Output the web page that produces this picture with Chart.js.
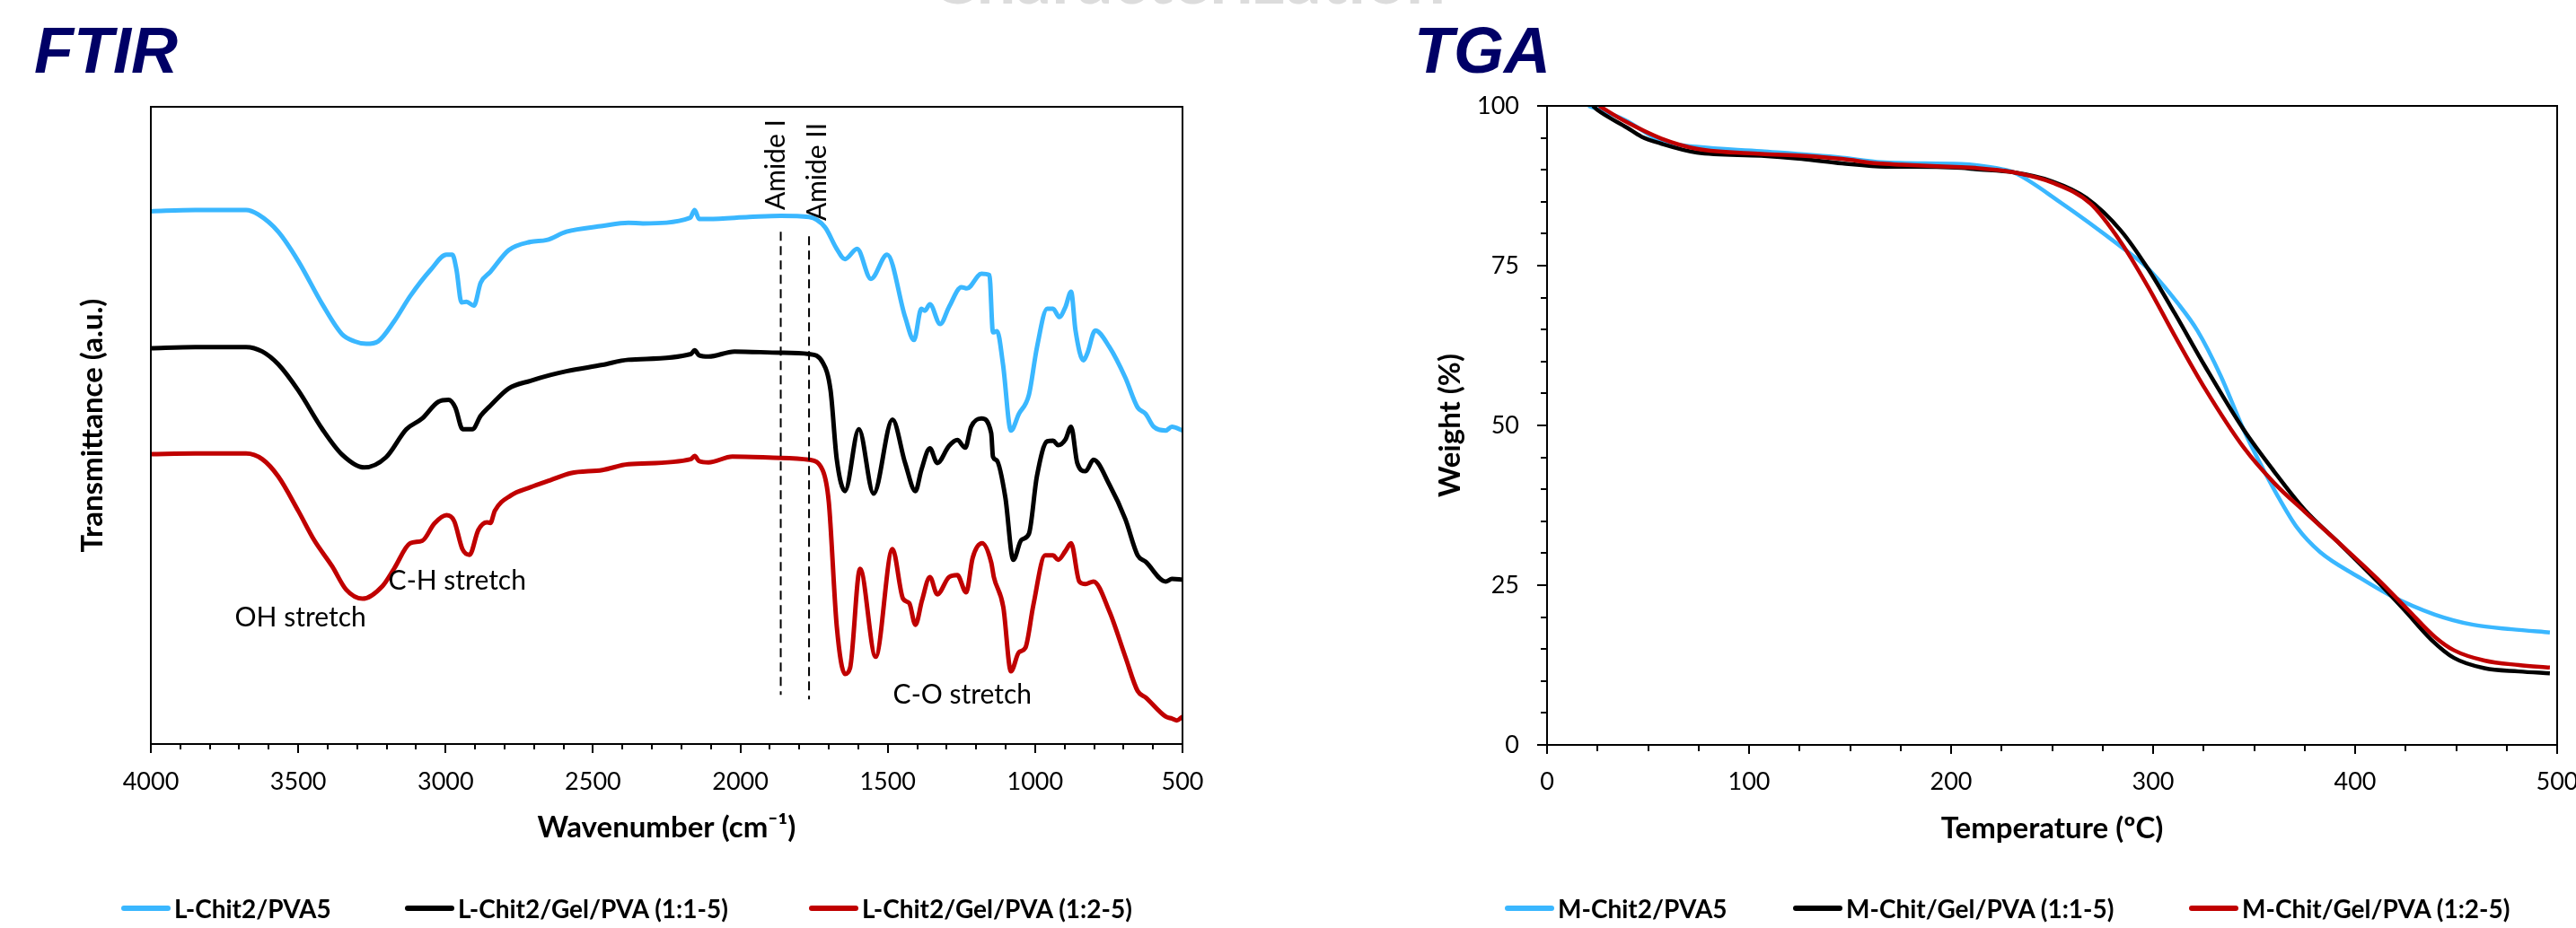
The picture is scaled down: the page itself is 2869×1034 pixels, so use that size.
<!DOCTYPE html>
<html>
<head>
<meta charset="utf-8">
<script src="https://cdn.jsdelivr.net/npm/chart.js@4.4.0/dist/chart.umd.min.js"></script>
<style>
html,body{margin:0;padding:0;background:#fff;}
#page{position:relative;width:2869px;height:1034px;overflow:hidden;background:#fff;font-family:Lato,sans-serif;}
canvas{position:absolute;top:0;}
.ttl{position:absolute;top:20px;font:italic bold 72px "Liberation Sans",Arial,sans-serif;color:#000066;line-height:1;}
.faint{position:absolute;left:1036px;top:-65px;font:bold 78px Lato,sans-serif;color:#dcdcdc;line-height:1;white-space:nowrap;}
.leg{position:absolute;top:998px;height:28px;display:flex;align-items:center;font:bold 28px Lato,sans-serif;line-height:28px;white-space:nowrap;color:#000;}
.leg .sw{display:inline-block;width:55px;height:6px;border-radius:3px;margin-right:4px;}
</style>
</head>
<body>
<div id="page">
  <div class="faint">Characterization</div>
  <div class="ttl" style="left:38px">FTIR</div>
  <div class="ttl" style="left:1575px">TGA</div>
  <canvas id="ftir" width="1434" height="1034" style="left:0"></canvas>
  <canvas id="tga" width="1435" height="1034" style="left:1434px"></canvas>
  <div id="legFtir"></div>
  <div id="legTga"></div>
</div>
<script>
// ---- FTIR: wavenumber (cm-1) and transmittance (a.u., offset spectra) ----
var ftirWn1 = [4000,3850,3677,3636,3568,3500,3418,3351,3310,3269,3229,3175,3120,3051,2997,2977,2963,2946,2929,2904,2881,2848,2786,2712,2657,2590,2468,2380,2331,2170,2155,2140,2108,1971,1863,1767,1713,1673,1645,1604,1557,1502,1441,1411,1386,1374,1357,1322,1292,1250,1231,1182,1155,1143,1129,1109,1082,1055,1021,994,959,939,918,897,878,863,836,823,796,748,694,652,625,598,557,536,500];
var ftirT1  = [83.6,83.8,83.8,83.1,80.4,75.8,69.0,64.3,63.2,62.8,63.2,66.3,70.3,74.4,76.8,76.8,74.4,69.3,69.4,68.8,72.4,74.1,77.5,78.8,79.1,80.4,81.3,81.8,81.7,82.6,83.8,82.4,82.4,82.7,82.9,82.7,81.1,77.7,76.1,77.7,73.0,76.8,67.0,63.4,68.3,68.0,69.0,65.9,68.6,71.7,71.5,73.8,73.6,64.6,64.8,59.6,49.2,51.8,54.8,62.2,68.3,68.3,67.0,68.6,71.0,64.9,60.2,61.3,64.9,62.3,57.5,52.8,51.8,49.8,49.2,49.8,49.2];

var ftirWn2 = [4000,3850,3677,3622,3568,3500,3418,3351,3276,3202,3133,3079,3025,2990,2967,2942,2909,2881,2848,2786,2712,2645,2590,2468,2380,2168,2155,2140,2108,2020,1863,1767,1721,1694,1673,1645,1598,1548,1484,1441,1406,1386,1357,1332,1292,1264,1237,1217,1182,1149,1143,1130,1101,1074,1047,1021,994,959,939,922,897,878,857,829,802,748,694,652,625,557,536,500];
var ftirT2  = [62.1,62.3,62.3,61.6,59.6,55.5,49.4,45.4,43.4,45.0,49.4,51.1,53.7,54.0,52.8,49.4,49.4,51.5,53.1,55.8,57.0,57.9,58.5,59.5,60.3,61.2,61.8,61.0,60.8,61.6,61.4,61.2,59.9,55.5,44.7,39.7,49.4,39.3,50.9,44.1,39.7,43.0,46.4,44.1,46.8,47.7,46.5,49.8,51.1,48.8,45.1,44.5,38.7,28.9,32.0,33.0,42.0,47.5,47.6,46.9,47.8,49.8,44.1,42.8,44.6,40.7,35.3,29.6,28.6,25.5,25.9,25.8];

var ftirWn3 = [4000,3850,3677,3622,3568,3500,3446,3385,3337,3282,3214,3175,3120,3079,3038,2997,2971,2943,2919,2889,2860,2848,2833,2779,2712,2645,2576,2468,2380,2168,2155,2140,2108,2027,1863,1767,1721,1700,1673,1645,1628,1594,1541,1484,1448,1427,1406,1384,1357,1332,1292,1264,1234,1212,1180,1149,1140,1108,1082,1055,1033,1006,966,939,922,897,878,850,829,802,748,694,652,625,557,536,519,500];
var ftirT3  = [45.5,45.6,45.6,44.7,42.0,36.6,32.0,27.9,24.2,22.8,24.8,27.5,31.5,31.9,34.6,35.9,35.0,30.6,29.7,33.6,34.8,34.7,36.6,39.0,40.3,41.4,42.5,43.0,43.9,44.7,45.2,44.4,44.2,45.1,44.9,44.6,43.0,38.0,18.5,11.0,11.9,27.5,13.7,30.6,22.8,22.1,18.7,22.5,26.2,23.5,26.2,26.5,23.8,29.2,31.5,28.5,26.2,21.5,11.4,14.4,15.1,21.8,29.6,29.6,28.9,30.3,31.5,25.5,25.1,25.5,20.8,13.7,8.3,7.3,4.3,4.0,3.7,4.3];

var ftirNames = ['L-Chit2/PVA5', 'L-Chit2/Gel/PVA (1:1-5)', 'L-Chit2/Gel/PVA (1:2-5)'];

// amide marker lines (dashed)
var amideWn = [1863, 1767];
var amideTop = [80.4, 79.7];
var amideBottom = [7.7, 7.0];

// band labels: wavenumber / transmittance of text start
var ftirNotes = [
  {text: 'OH stretch', x: 3715, y: 18.4},
  {text: 'C-H stretch', x: 3194, y: 24.2},
  {text: 'C-O stretch', x: 1482, y: 6.3},
  {text: 'Amide I', x: 1850, y: 83.8, rotate: true},
  {text: 'Amide II', x: 1709, y: 82.1, rotate: true}
];

// ---- TGA: temperature (ºC) and weight (%) ----
var tgaT1 = [20.5,38.6,56.5,74,106,146,165.5,205,213,225,231,253.7,284,297.3,312.5,322,333.4,344.7,352.3,361.8,371.3,382.6,401.6,416.8,439.5,458.5,477.5,496.4];
var tgaW1 = [100,97.8,94.5,93.6,92.9,91.9,91.2,90.9,90.7,90.1,89.6,85.0,78.0,74.6,69.0,64.8,57.8,49.4,44.5,38.9,34.0,30.2,26.3,23.5,20.4,18.8,18.1,17.6];

var tgaT2 = [22.7,24.8,39.6,46.7,56.5,74.2,106,126,146,167.6,178.5,205,212,231,250,267,284,297.3,310.6,325.8,344.7,359.9,375,392,411,424.4,437.6,449,464,481,496.4];
var tgaW2 = [100,99.4,96.6,95.2,94.1,92.7,92.2,91.7,91.0,90.5,90.5,90.3,90.1,89.6,88.2,85.6,80.5,74.6,67.6,59.2,49.4,42.8,36.8,31.6,25.6,21.1,16.5,13.6,12.0,11.5,11.2];

var tgaT3 = [25.8,38.6,56.5,74,106,126,146,163.6,175.5,205,212,231,250,269,284,297.3,310.6,325.8,344.7,359.9,375,392,411,426.3,439.5,449,464,481,496.4];
var tgaW3 = [100,97.6,94.9,93.3,92.5,92.2,91.7,91.0,90.8,90.4,90.3,89.6,88.0,84.7,78.7,71.8,64.1,55.7,46.6,41.0,36.5,31.6,26.0,21.1,16.9,14.8,13.2,12.5,12.1];

var tgaNames = ['M-Chit2/PVA5', 'M-Chit/Gel/PVA (1:1-5)', 'M-Chit/Gel/PVA (1:2-5)'];

var colors = ['#3AB7FF', '#000000', '#C00000'];

function pts(xs, ys){
    return xs.map(function(x, i){ return {x: x, y: ys[i]}; });
}

// box round the plot + short minor ticks
var framePlugin = {
    id: 'frame',
    afterDatasetsDraw: function(chart, args, o){
        var a = chart.chartArea, ctx = chart.ctx;
        ctx.save();
        ctx.strokeStyle = '#000';
        ctx.lineWidth = 2;
        ctx.strokeRect(a.left, a.top, a.right - a.left, a.bottom - a.top);
        var sx = chart.scales.x, sy = chart.scales.y, v, p;
        ctx.beginPath();
        if(o.xMinor){
            for(v = sx.min; v <= sx.max; v += o.xMinor){
                p = Math.round(sx.getPixelForValue(v));
                ctx.moveTo(p, a.bottom); ctx.lineTo(p, a.bottom + o.minorLen);
            }
        }
        if(o.yMinor){
            for(v = sy.min; v <= sy.max; v += o.yMinor){
                p = Math.round(sy.getPixelForValue(v));
                ctx.moveTo(a.left, p); ctx.lineTo(a.left - o.minorLen, p);
            }
        }
        ctx.stroke();
        ctx.restore();
    }
};

var notesPlugin = {
    id: 'notes',
    afterDatasetsDraw: function(chart, args, o){
        if(!o.items) return;
        var ctx = chart.ctx, sx = chart.scales.x, sy = chart.scales.y;
        ctx.save();
        ctx.fillStyle = '#000';
        ctx.font = '30px Lato';
        ctx.textAlign = 'left';
        ctx.textBaseline = 'alphabetic';
        o.items.forEach(function(n){
            ctx.save();
            ctx.translate(sx.getPixelForValue(n.x), sy.getPixelForValue(n.y));
            if(n.rotate) ctx.rotate(-Math.PI / 2);
            ctx.fillText(n.text, 0, 0);
            ctx.restore();
        });
        ctx.restore();
    }
};

function lineSet(label, data, color, width, order){
    return {label: label, data: data, borderColor: color, backgroundColor: color,
            borderWidth: width, pointRadius: 0, fill: false, order: order,
            cubicInterpolationMode: 'monotone'};
}

function plain(v){ return String(v); }

var tickFont = {family: 'Lato', size: 27};
var titleFont = {family: 'Lato', size: 33, weight: 'bold'};

// FTIR
var ftirSets = [
    lineSet(ftirNames[0], pts(ftirWn1, ftirT1), colors[0], 5, 3),
    lineSet(ftirNames[1], pts(ftirWn2, ftirT2), colors[1], 5, 2),
    lineSet(ftirNames[2], pts(ftirWn3, ftirT3), colors[2], 5, 1)
];
amideWn.forEach(function(w, i){
    ftirSets.push({label: 'amide' + i, data: [{x: w, y: amideTop[i]}, {x: w, y: amideBottom[i]}],
        borderColor: '#000', borderWidth: 2, borderDash: [10, 6], pointRadius: 0, fill: false, order: 0});
});

new Chart(document.getElementById('ftir'), {
    type: 'line',
    data: {datasets: ftirSets},
    plugins: [framePlugin, notesPlugin],
    options: {
        responsive: false, animation: false, devicePixelRatio: 1,
        layout: {padding: {left: 0, top: 119, right: 117, bottom: 92}},
        plugins: {
            legend: {display: false}, tooltip: {enabled: false},
            frame: {xMinor: 100, minorLen: 6},
            notes: {items: ftirNotes}
        },
        scales: {
            x: {
                type: 'linear', reverse: true, min: 500, max: 4000,
                ticks: {stepSize: 500, font: tickFont, color: '#000', padding: 16, maxRotation: 0, autoSkip: false, callback: plain},
                grid: {display: true, drawOnChartArea: false, drawTicks: true, tickLength: 10, lineWidth: 2, tickWidth: 2, tickColor: '#000'},
                border: {display: true, color: '#000', width: 2},
                title: {display: true, text: 'Wavenumber (cm⁻¹)', font: titleFont, color: '#000', padding: 0},
                afterFit: function(s){ s.height = 113; s.paddingLeft = 0; s.paddingRight = 0; }
            },
            y: {
                type: 'linear', min: 0, max: 100,
                ticks: {display: false},
                grid: {display: false},
                border: {display: true, color: '#000', width: 2},
                title: {display: true, text: 'Transmittance (a.u.)', font: titleFont, color: '#000', padding: {top: 84, bottom: 0}},
                afterFit: function(s){ s.width = 168; }
            }
        }
    }
});

// TGA
new Chart(document.getElementById('tga'), {
    type: 'line',
    data: {datasets: [
        lineSet(tgaNames[0], pts(tgaT1, tgaW1), colors[0], 4.5, 3),
        lineSet(tgaNames[1], pts(tgaT2, tgaW2), colors[1], 4.5, 2),
        lineSet(tgaNames[2], pts(tgaT3, tgaW3), colors[2], 4.5, 1)
    ]},
    plugins: [framePlugin],
    options: {
        responsive: false, animation: false, devicePixelRatio: 1,
        layout: {padding: {left: 0, top: 118, right: 21, bottom: 91}},
        plugins: {
            legend: {display: false}, tooltip: {enabled: false},
            frame: {xMinor: 25, yMinor: 5, minorLen: 7}
        },
        scales: {
            x: {
                type: 'linear', min: 0, max: 500,
                ticks: {stepSize: 100, font: tickFont, color: '#000', padding: 15, maxRotation: 0, autoSkip: false, callback: plain},
                grid: {display: true, drawOnChartArea: false, drawTicks: true, tickLength: 10, lineWidth: 2, tickWidth: 2, tickColor: '#000'},
                border: {display: true, color: '#000', width: 2},
                title: {display: true, text: 'Temperature (ºC)', font: titleFont, color: '#000', padding: 0},
                afterFit: function(s){ s.height = 113; s.paddingLeft = 0; s.paddingRight = 0; }
            },
            y: {
                type: 'linear', min: 0, max: 100,
                ticks: {stepSize: 25, font: tickFont, color: '#000', padding: 20, callback: plain},
                grid: {display: true, drawOnChartArea: false, drawTicks: true, tickLength: 11, lineWidth: 2, tickWidth: 2, tickColor: '#000'},
                border: {display: true, color: '#000', width: 2},
                title: {display: true, text: 'Weight (%)', font: titleFont, color: '#000', padding: {top: 162, bottom: 0}},
                afterFit: function(s){ s.width = 289; s.paddingTop = 0; s.paddingBottom = 0; }
            }
        }
    }
});

// legends below each chart
function buildLegend(id, names, xs){
    var el = document.getElementById(id);
    names.forEach(function(t, i){
        var d = document.createElement('div');
        d.className = 'leg';
        d.style.left = xs[i] + 'px';
        var sw = document.createElement('span');
        sw.className = 'sw';
        sw.style.background = colors[i];
        d.appendChild(sw);
        d.appendChild(document.createTextNode(t));
        el.appendChild(d);
    });
}
buildLegend('legFtir', ftirNames, [135, 451, 901]);
buildLegend('legTga', tgaNames, [1676, 1997, 2438]);
</script>
</body>
</html>
